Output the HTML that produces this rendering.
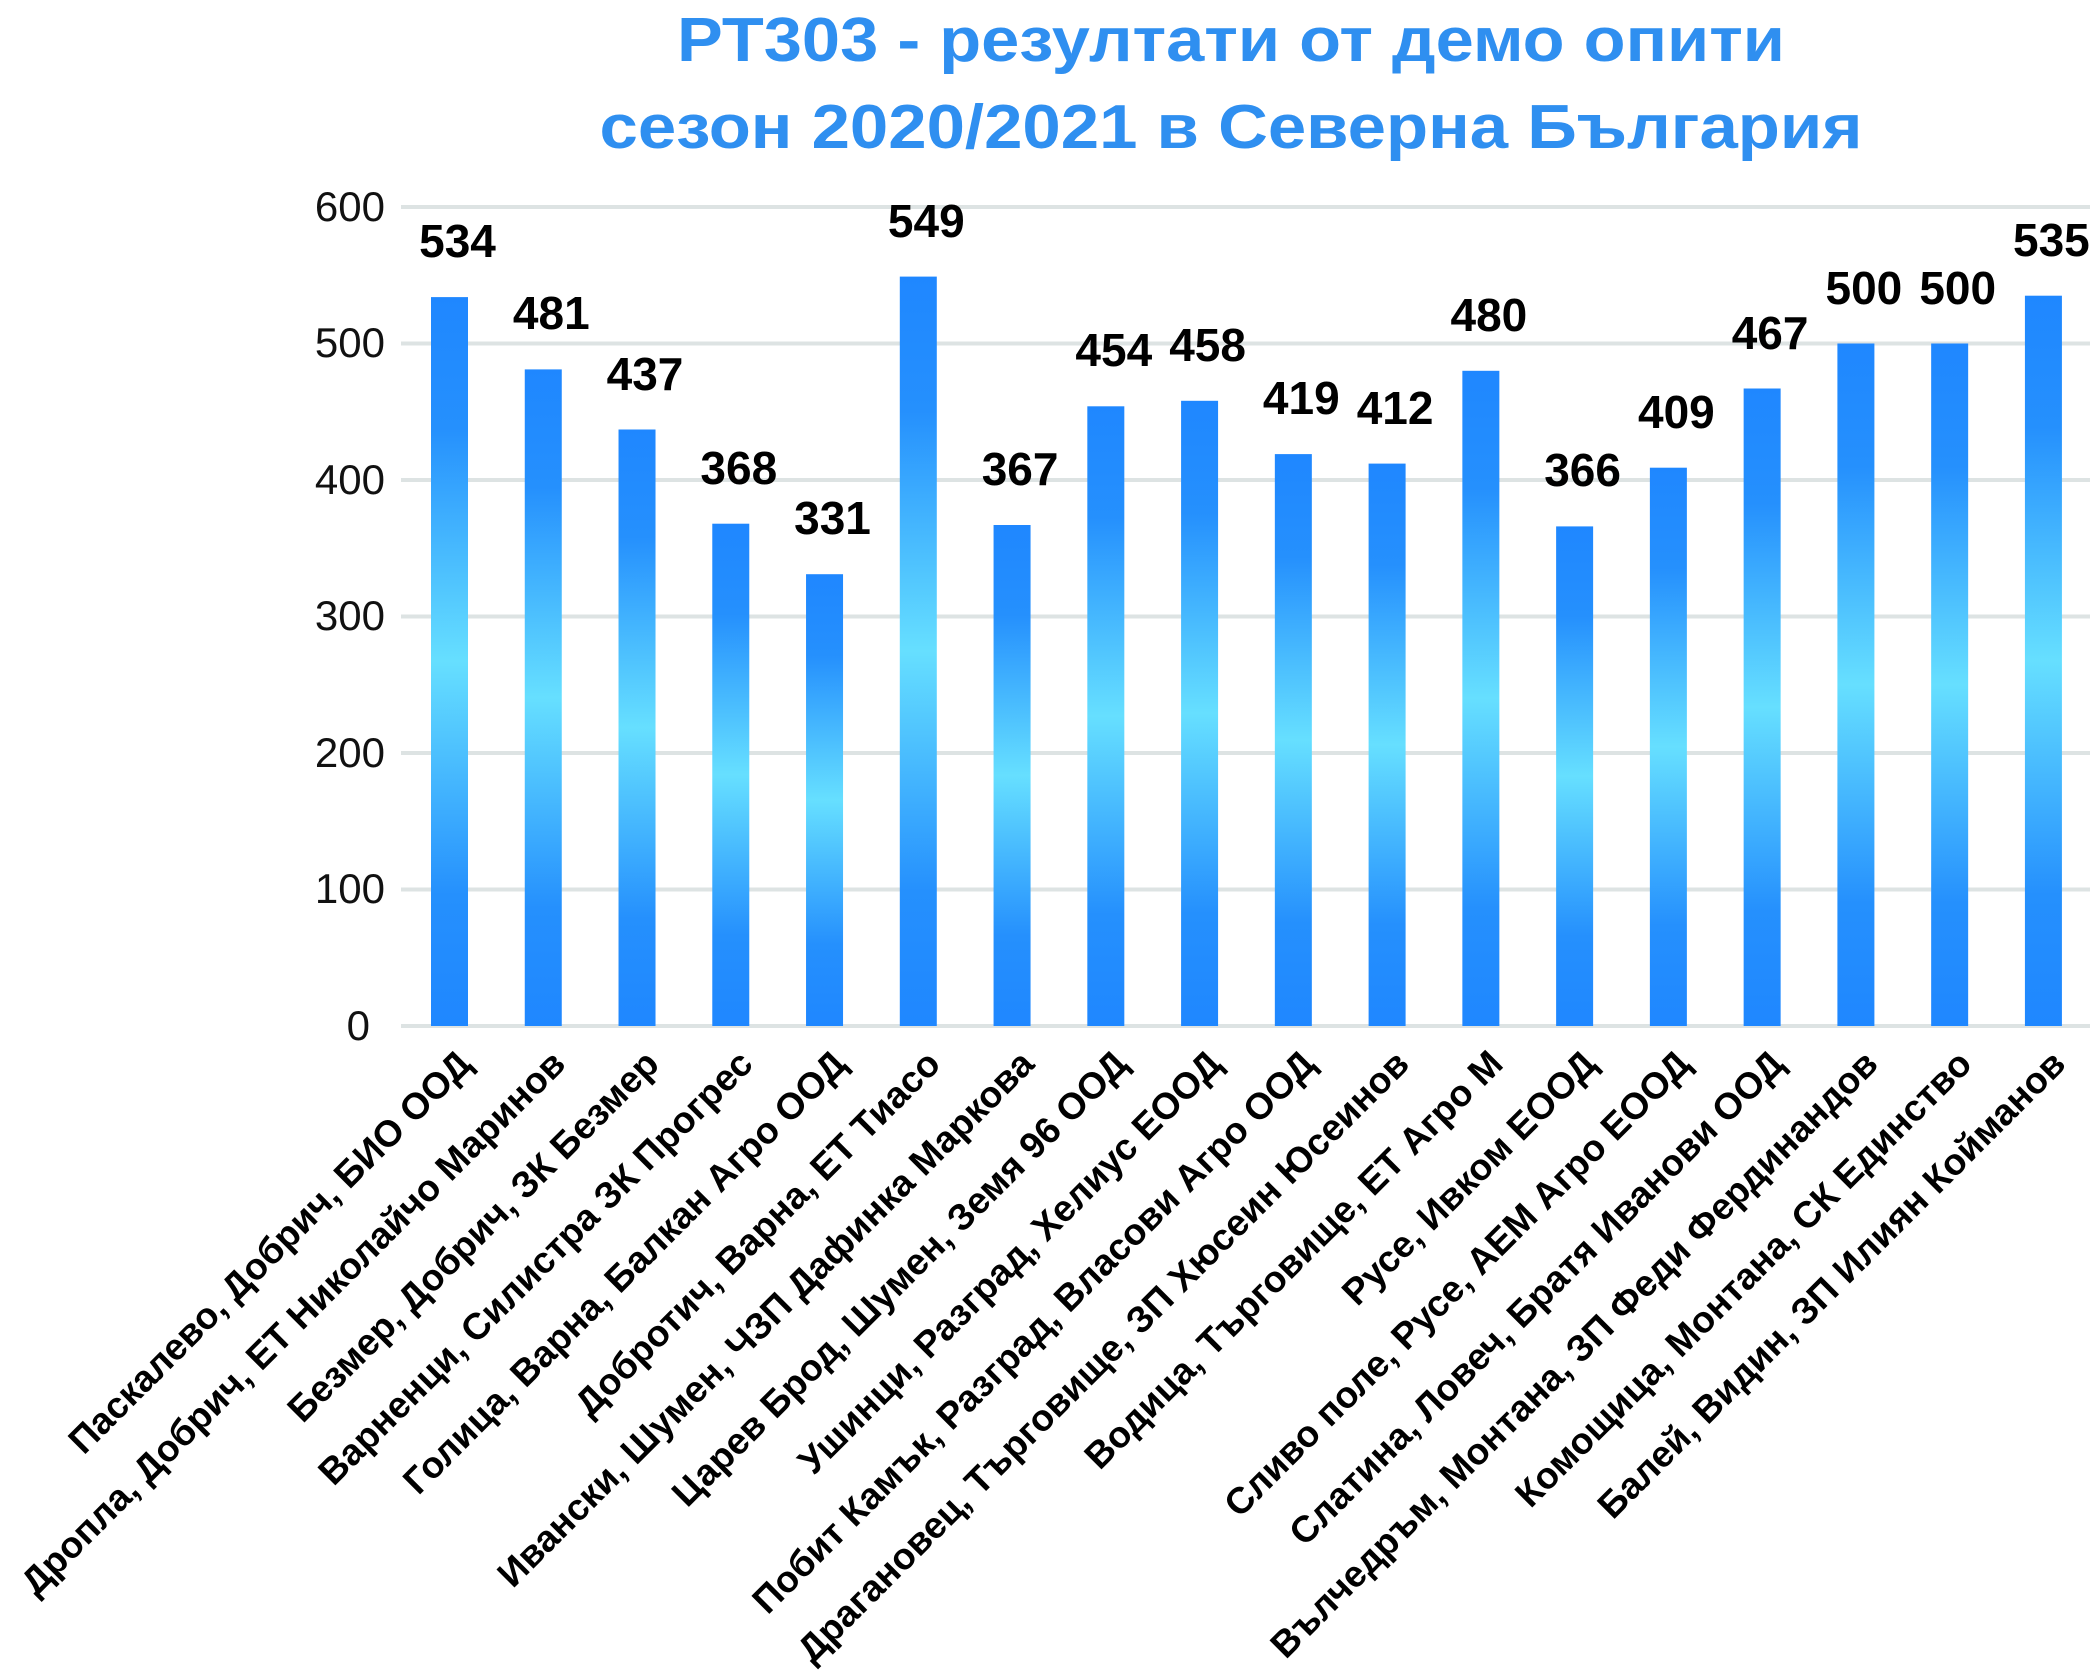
<!DOCTYPE html>
<html><head><meta charset="utf-8"><style>
html,body{margin:0;padding:0;background:#fff;}
svg{display:block;}
</style></head><body>
<svg width="2094" height="1680" viewBox="0 0 2094 1680" xmlns="http://www.w3.org/2000/svg" font-family="'Liberation Sans', 'Noto Sans CJK SC', sans-serif">
<defs>
<linearGradient id="g" x1="0" y1="0" x2="0" y2="1">
<stop offset="0" stop-color="#1f87ff"/>
<stop offset="0.18" stop-color="#2590fd"/>
<stop offset="0.5" stop-color="#66dfff"/>
<stop offset="0.82" stop-color="#2590fd"/>
<stop offset="1" stop-color="#1f87ff"/>
</linearGradient>
</defs>
<g fill="#2f8ff0" font-weight="bold" font-size="62" text-anchor="middle">
<text x="1231" y="61" textLength="1108" lengthAdjust="spacingAndGlyphs">РТ303 - резултати от демо опити</text>
<text x="1231" y="148" textLength="1263" lengthAdjust="spacingAndGlyphs">сезон 2020/2021 в Северна България</text>
</g>
<g stroke="#dde3e3" stroke-width="4">
<line x1="401" y1="207" x2="2090" y2="207"/>
<line x1="401" y1="343.5" x2="2090" y2="343.5"/>
<line x1="401" y1="480" x2="2090" y2="480"/>
<line x1="401" y1="616.5" x2="2090" y2="616.5"/>
<line x1="401" y1="753" x2="2090" y2="753"/>
<line x1="401" y1="889.5" x2="2090" y2="889.5"/>
<line x1="401" y1="1026" x2="2090" y2="1026"/>
</g>
<g fill="#111" font-size="42" text-anchor="end">
<text x="385" y="221">600</text>
<text x="385" y="357">500</text>
<text x="385" y="494">400</text>
<text x="385" y="630">300</text>
<text x="385" y="767">200</text>
<text x="385" y="903">100</text>
<text x="370" y="1040">0</text>
</g>
<g fill="url(#g)">
<rect x="431" y="297.1" width="37" height="728.9"/>
<rect x="524.76" y="369.4" width="37" height="656.6"/>
<rect x="618.52" y="429.5" width="37" height="596.5"/>
<rect x="712.28" y="523.7" width="37" height="502.3"/>
<rect x="806.04" y="574.2" width="37" height="451.8"/>
<rect x="899.8" y="276.6" width="37" height="749.4"/>
<rect x="993.56" y="525.0" width="37" height="501.0"/>
<rect x="1087.32" y="406.3" width="37" height="619.7"/>
<rect x="1181.08" y="400.8" width="37" height="625.2"/>
<rect x="1274.84" y="454.1" width="37" height="571.9"/>
<rect x="1368.6" y="463.6" width="37" height="562.4"/>
<rect x="1462.36" y="370.8" width="37" height="655.2"/>
<rect x="1556.12" y="526.4" width="37" height="499.6"/>
<rect x="1649.88" y="467.7" width="37" height="558.3"/>
<rect x="1743.64" y="388.5" width="37" height="637.5"/>
<rect x="1837.4" y="343.5" width="37" height="682.5"/>
<rect x="1931.16" y="343.5" width="37" height="682.5"/>
<rect x="2024.92" y="295.7" width="37" height="730.3"/>
</g>
<g font-size="46" font-weight="bold" fill="#000" text-anchor="middle">
<text x="457.5" y="257">534</text>
<text x="551.3" y="329">481</text>
<text x="645" y="390">437</text>
<text x="738.8" y="484">368</text>
<text x="832.5" y="534">331</text>
<text x="926.3" y="237">549</text>
<text x="1020.1" y="485">367</text>
<text x="1113.8" y="366">454</text>
<text x="1207.6" y="361">458</text>
<text x="1301.3" y="414">419</text>
<text x="1395.1" y="424">412</text>
<text x="1488.9" y="331">480</text>
<text x="1582.6" y="486">366</text>
<text x="1676.4" y="428">409</text>
<text x="1770.1" y="349">467</text>
<text x="1863.9" y="304">500</text>
<text x="1957.7" y="304">500</text>
<text x="2051.4" y="256">535</text>
</g>
<g font-size="37" font-weight="bold" fill="#000" text-anchor="end">
<text transform="translate(473.5,1066) rotate(-45)">Паскалево, Добрич, БИО ООД</text>
<text transform="translate(567.3,1066) rotate(-45)">Дропла, Добрич, ЕТ Николайчо Маринов</text>
<text transform="translate(661,1066) rotate(-45)">Безмер, Добрич, ЗК Безмер</text>
<text transform="translate(754.8,1066) rotate(-45)">Варненци, Силистра ЗК Прогрес</text>
<text transform="translate(848.5,1066) rotate(-45)">Голица, Варна, Балкан Агро ООД</text>
<text transform="translate(942.3,1066) rotate(-45)">Добротич, Варна, ЕТ Тиасо</text>
<text transform="translate(1036.1,1066) rotate(-45)">Ивански, Шумен, ЧЗП Дафинка Маркова</text>
<text transform="translate(1129.8,1066) rotate(-45)">Царев Брод, Шумен, Земя 96 ООД</text>
<text transform="translate(1223.6,1066) rotate(-45)">Ушинци, Разград, Хелиус ЕООД</text>
<text transform="translate(1317.3,1066) rotate(-45)">Побит Камък, Разград, Власови Агро ООД</text>
<text transform="translate(1411.1,1066) rotate(-45)">Драгановец, Търговище, ЗП Хюсеин Юсеинов</text>
<text transform="translate(1504.9,1066) rotate(-45)">Водица, Търговище, ЕТ Агро М</text>
<text transform="translate(1598.6,1066) rotate(-45)">Русе, Ивком ЕООД</text>
<text transform="translate(1692.4,1066) rotate(-45)">Сливо поле, Русе, АЕМ Агро ЕООД</text>
<text transform="translate(1786.1,1066) rotate(-45)">Слатина, Ловеч, Братя Иванови ООД</text>
<text transform="translate(1879.9,1066) rotate(-45)">Вълчедръм, Монтана, ЗП Феди Фердинандов</text>
<text transform="translate(1973.7,1066) rotate(-45)">Комощица, Монтана, СК Единство</text>
<text transform="translate(2067.4,1066) rotate(-45)">Балей, Видин, ЗП Илиян Койманов</text>
</g>
</svg>
</body></html>
